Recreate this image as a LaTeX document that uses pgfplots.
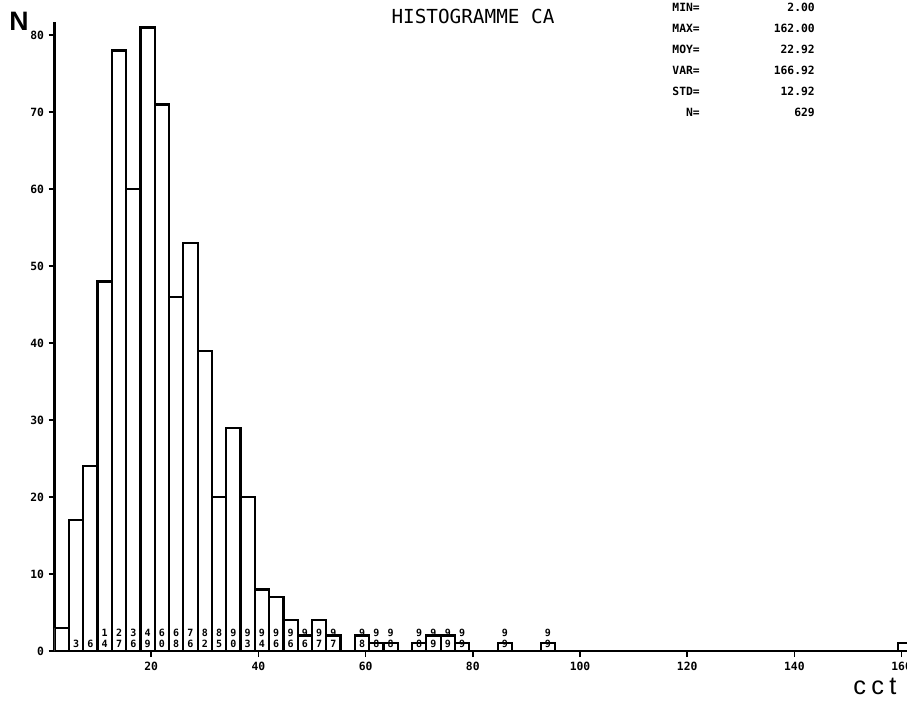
\documentclass[border=0pt]{standalone}
\usepackage{fontspec}
\usepackage{pgfplots}
\pgfplotsset{compat=1.18}
\setmainfont{DejaVu Sans Mono}
\newfontfamily\plotfont{DejaVu Sans Mono}
\newfontfamily\sansfont{Liberation Sans}
\newcommand\digfont{\plotfont\bfseries\fontsize{7.5}{8.5}\selectfont}
\tikzset{dig/.style={anchor=south, inner sep=0pt, align=center, font=\digfont}}

\begin{document}
\begin{tikzpicture}
\begin{axis}[
  at={(0,0)}, anchor=south west,
  scale only axis, width=639.2pt, height=471.75pt,
  xmin=2, xmax=161, ymin=0, ymax=81.7,
  axis x line=bottom, axis y line=left,
  axis line style={line width=2pt, -},
  xtick={20,40,...,160}, ytick={0,10,...,80},
  tick align=outside, major tick length=4.5pt,
  every tick/.style={black, line width=1.2pt},
  ticklabel style={font=\plotfont\bfseries\fontsize{8.5}{9}\selectfont},
  /pgf/number format/assume math mode=true,
  clip=true,
]
\addplot[ybar, bar width=2.6667, fill=white, draw=black, line width=1.7pt] coordinates {
(3.333,3) (6.000,17) (8.667,24) (11.333,48) (14.000,78) (16.667,60)
(19.333,81) (22.000,71) (24.667,46) (27.333,53) (30.000,39) (32.667,20)
(35.333,29) (38.000,20) (40.667,8) (43.333,7) (46.000,4) (48.667,2)
(51.333,4) (54.000,2) (56.667,0) (59.333,2) (62.000,1) (64.667,1)
(67.333,0) (70.000,1) (72.667,2) (75.333,2) (78.000,1) (80.667,0)
(83.333,0) (86.000,1) (88.667,0) (91.333,0) (94.000,1) (96.667,0)
(99.333,0) (102.000,0) (104.667,0) (107.333,0) (110.000,0) (112.667,0)
(115.333,0) (118.000,0) (120.667,0) (123.333,0) (126.000,0) (128.667,0)
(131.333,0) (134.000,0) (136.667,0) (139.333,0) (142.000,0) (144.667,0)
(147.333,0) (150.000,0) (152.667,0) (155.333,0) (158.000,0) (160.667,1)
};
\node[dig] at (axis cs:6.000,0.4) {3};
\node[dig] at (axis cs:8.667,0.4) {6};
\node[dig] at (axis cs:11.333,0.4) {1\\4};
\node[dig] at (axis cs:14.000,0.4) {2\\7};
\node[dig] at (axis cs:16.667,0.4) {3\\6};
\node[dig] at (axis cs:19.333,0.4) {4\\9};
\node[dig] at (axis cs:22.000,0.4) {6\\0};
\node[dig] at (axis cs:24.667,0.4) {6\\8};
\node[dig] at (axis cs:27.333,0.4) {7\\6};
\node[dig] at (axis cs:30.000,0.4) {8\\2};
\node[dig] at (axis cs:32.667,0.4) {8\\5};
\node[dig] at (axis cs:35.333,0.4) {9\\0};
\node[dig] at (axis cs:38.000,0.4) {9\\3};
\node[dig] at (axis cs:40.667,0.4) {9\\4};
\node[dig] at (axis cs:43.333,0.4) {9\\6};
\node[dig] at (axis cs:46.000,0.4) {9\\6};
\node[dig] at (axis cs:48.667,0.4) {9\\6};
\node[dig] at (axis cs:51.333,0.4) {9\\7};
\node[dig] at (axis cs:54.000,0.4) {9\\7};
\node[dig] at (axis cs:59.333,0.4) {9\\8};
\node[dig] at (axis cs:62.000,0.4) {9\\8};
\node[dig] at (axis cs:64.667,0.4) {9\\8};
\node[dig] at (axis cs:70.000,0.4) {9\\8};
\node[dig] at (axis cs:72.667,0.4) {9\\9};
\node[dig] at (axis cs:75.333,0.4) {9\\9};
\node[dig] at (axis cs:78.000,0.4) {9\\9};
\node[dig] at (axis cs:86.000,0.4) {9\\9};
\node[dig] at (axis cs:94.000,0.4) {9\\9};
\end{axis}
\begin{scope}[x=0.75pt,y=-0.75pt,shift={(-41.025pt,488.25pt)}]
\node[font=\sansfont\bfseries\fontsize{20}{20}\selectfont] at (19,21) {N};
\node[font=\plotfont\fontsize{14.5}{15}\selectfont] at (473,16) {HISTOGRAMME CA};
\begin{scope}[every node/.style={anchor=east, inner sep=0pt, font=\plotfont\bfseries\fontsize{8.5}{9}\selectfont}]
\node at (700,7) {MIN=};   \node at (815,7) {2.00};
\node at (700,28) {MAX=};  \node at (815,28) {162.00};
\node at (700,49) {MOY=};  \node at (815,49) {22.92};
\node at (700,70) {VAR=};  \node at (815,70) {166.92};
\node at (700,91) {STD=};  \node at (815,91) {12.92};
\node at (700,112) {N=};   \node at (815,112) {629};
\end{scope}
\node[anchor=base west, inner sep=0pt, font=\sansfont\fontsize{19}{19}\selectfont] at (853,694) {c\hspace{4pt}c\hspace{4pt}t};
\pgfresetboundingbox
\useasboundingbox (0,0) rectangle (907,700);
\end{scope}
\end{tikzpicture}
\end{document}
